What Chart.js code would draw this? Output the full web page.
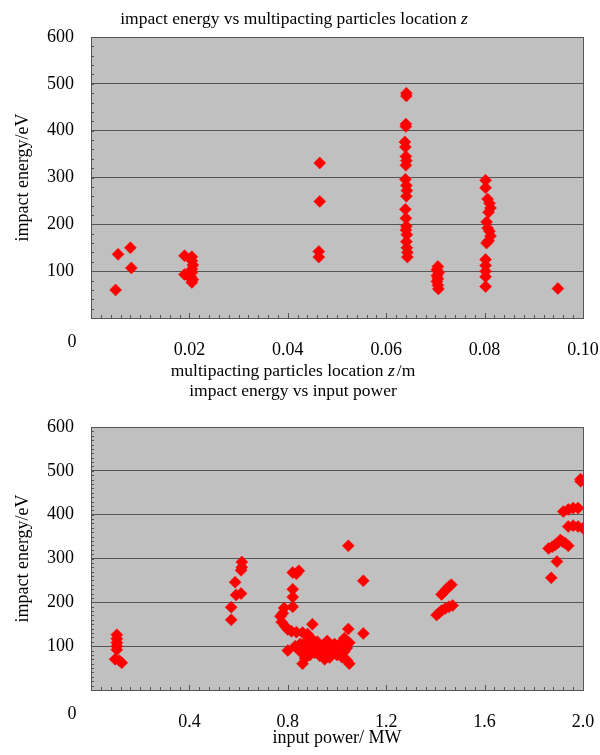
<!DOCTYPE html>
<html>
<head>
<meta charset="utf-8">
<script src="https://cdn.jsdelivr.net/npm/chart.js@4.4.1/dist/chart.umd.min.js"></script>
<style>
  html, body { margin: 0; padding: 0; background: #ffffff; }
  canvas { display: block; }
</style>
</head>
<body>
<canvas id="chartZ" width="600" height="380"></canvas>
<canvas id="chartP" width="600" height="375"></canvas>
<script>
// ---------- data ----------
const zPosition = [
  0.0050, 0.0055, 0.0080, 0.0082,
  0.0190, 0.0205, 0.0205, 0.0207, 0.0205, 0.0205, 0.0190, 0.0197, 0.0203, 0.0207, 0.0205,
  0.0465, 0.0465, 0.0463, 0.0463,
  0.0641, 0.0641, 0.0640, 0.0640, 0.0638, 0.0639, 0.0640, 0.0641, 0.0640, 0.0639, 0.0641,
  0.0642, 0.0641, 0.0639, 0.0640, 0.0641, 0.0640, 0.0642, 0.0641, 0.0642, 0.0643, 0.0643,
  0.0705, 0.0703, 0.0707, 0.0703, 0.0705, 0.0703, 0.0705, 0.0706,
  0.0802, 0.0802, 0.0806, 0.0810, 0.0812, 0.0808, 0.0804, 0.0806, 0.0810, 0.0812, 0.0808,
  0.0804, 0.0802, 0.0802, 0.0802, 0.0802, 0.0802,
  0.0949
];
const energyAtZ = [
  60, 136, 150, 107,
  133, 131, 122, 113, 104, 97, 93, 90, 88, 82, 76,
  331, 249, 142, 130,
  480, 474, 414, 409, 376, 365, 345, 336, 326, 296, 283,
  272, 260, 232, 213, 196, 188, 178, 163, 150, 140, 130,
  110, 103, 97, 90, 84, 78, 70, 62,
  294, 278, 254, 245, 235, 226, 205, 192, 185, 175, 165,
  160, 125, 112, 100, 88, 67,
  63
];

const inputPower = [
  0.105, 0.105, 0.105, 0.105, 0.105, 0.098, 0.115, 0.125,
  0.613, 0.613, 0.610, 0.586, 0.610, 0.590, 0.570, 0.570,
  0.820, 0.845, 0.835, 0.820, 0.820, 0.820, 0.785, 0.780, 0.770, 0.775, 0.790, 0.800,
  0.815, 0.835, 0.860, 0.880, 0.900, 0.800, 0.860,
  0.83, 0.84, 0.85, 0.85, 0.86, 0.87, 0.87, 0.88, 0.88, 0.89, 0.89, 0.90, 0.90, 0.91,
  0.91, 0.92, 0.92, 0.93, 0.93, 0.94, 0.94, 0.95, 0.95, 0.96, 0.96, 0.97, 0.97, 0.98,
  0.98, 0.99, 1.00, 1.00, 1.01, 1.02, 1.02, 1.03, 1.04, 1.04, 1.05, 1.05, 0.87, 0.90,
  0.95, 1.03,
  1.046, 1.107, 1.046, 1.107,
  1.425, 1.435, 1.445, 1.455, 1.465, 1.405, 1.415, 1.425, 1.440, 1.455, 1.470,
  1.871, 1.894, 1.860, 1.875, 1.887, 1.898, 1.908, 1.918, 1.928, 1.940,
  1.920, 1.940, 1.960, 1.980, 1.940, 1.960, 1.980, 2.000, 1.990, 1.990
];
const energyAtP = [
  126, 117, 108, 100, 92, 70, 67, 62,
  292, 280, 273, 246, 220, 217, 189, 160,
  268, 272, 265, 230, 212, 190, 187, 175, 168, 155, 145, 138,
  134, 132, 131, 128, 150, 90, 60,
  100, 95, 105, 88, 97, 108, 85, 93, 102, 112, 80, 90, 99, 106,
  85, 94, 110, 78, 100, 88, 97, 105, 82, 92, 112, 74, 100, 86,
  95, 105, 80, 92, 100, 75, 110, 88, 68, 96, 60, 108, 72, 115,
  70, 118,
  329, 249, 139, 129,
  218, 224, 230, 236, 240, 171, 176, 181, 186, 190, 193,
  256, 293, 323, 327, 331, 336, 342, 338, 335, 329,
  407, 412, 415, 415, 373, 375, 373, 369, 476, 481
];

const energyTicks = [0, 100, 200, 300, 400, 500, 600];
const zTickValues = [0, 0.02, 0.04, 0.06, 0.08, 0.10];
const zTickLabels = ['0', '0.02', '0.04', '0.06', '0.08', '0.10'];
const pTickValues = [0, 0.4, 0.8, 1.2, 1.6, 2.0];
const pTickLabels = ['0', '0.4', '0.8', '1.2', '1.6', '2.0'];

// ---------- styling ----------
const SERIF = '"Liberation Serif", "Times New Roman", serif';
const TICK_FONT = { family: SERIF, size: 18 };
const GRID_COLOR = '#555555';
const PLOT_BG = '#c0c0c0';

// plugin: plot background, frame, inward minor ticks, corner "0", rich titles
const decorPlugin = {
  id: 'decor',
  beforeDraw(chart) {
    const { ctx, chartArea: a } = chart;
    ctx.save();
    ctx.fillStyle = PLOT_BG;
    ctx.fillRect(a.left, a.top, a.right - a.left, a.bottom - a.top);
    ctx.restore();
  },
  beforeDatasetsDraw(chart) {
    const { ctx, chartArea: a } = chart;
    const o = chart.options.plugins.decor;
    const xs = chart.scales.x, ys = chart.scales.y;
    ctx.save();
    ctx.strokeStyle = GRID_COLOR;
    ctx.lineWidth = 1;
    ctx.beginPath();
    const nx = Math.round((xs.max - xs.min) / o.xMinor);
    for (let i = 0; i <= nx; i++) {
      const v = xs.min + i * o.xMinor;
      const px = Math.round(xs.getPixelForValue(v)) + 0.5;
      const len = (i % o.xMajorEvery === 0) ? 5 : 3;
      ctx.moveTo(px, a.bottom);
      ctx.lineTo(px, a.bottom - len);
    }
    const ny = Math.round((ys.max - ys.min) / o.yMinor);
    for (let i = 0; i <= ny; i++) {
      const v = ys.min + i * o.yMinor;
      const py = Math.round(ys.getPixelForValue(v)) + 0.5;
      ctx.moveTo(a.left, py);
      ctx.lineTo(a.left + 3, py);
    }
    ctx.stroke();
    ctx.strokeRect(Math.round(a.left) + 0.5, Math.round(a.top) + 0.5,
                   Math.round(a.right - a.left), Math.round(a.bottom - a.top));
    ctx.restore();
  },
  afterDraw(chart) {
    const { ctx, chartArea: a } = chart;
    const o = chart.options.plugins.decor;
    const xs = chart.scales.x;
    ctx.save();
    ctx.fillStyle = '#000';
    ctx.font = `${TICK_FONT.size}px ${SERIF}`;
    ctx.textAlign = 'center';
    ctx.textBaseline = 'middle';
    ctx.fillText(o.zeroLabel, xs.getPixelForValue(0) - 19, a.bottom + 13 + TICK_FONT.size * 0.6);
    ctx.textBaseline = 'alphabetic';
    ctx.textAlign = 'left';
    for (const line of o.texts) {
      let total = 0;
      const widths = line.parts.map(p => {
        ctx.font = `${p.italic ? 'italic ' : ''}${line.size}px ${SERIF}`;
        const w = ctx.measureText(p.text).width + (p.gap || 0);
        total += w;
        return w;
      });
      let x = line.cx - total / 2;
      line.parts.forEach((p, i) => {
        ctx.font = `${p.italic ? 'italic ' : ''}${line.size}px ${SERIF}`;
        ctx.fillText(p.text, x, line.baseline);
        x += widths[i];
      });
    }
    ctx.restore();
  }
};

function makeChart(canvasId, xData, yData, cfg) {
  const points = xData.map((x, i) => ({ x: x, y: yData[i] }));
  return new Chart(document.getElementById(canvasId), {
    type: 'scatter',
    data: {
      datasets: [{
        data: points,
        pointStyle: 'rectRot',
        pointRadius: 6,
        pointHoverRadius: 6,
        backgroundColor: '#ff0000',
        borderColor: '#ff0000',
        borderWidth: 0.5,
        showLine: false
      }]
    },
    options: {
      responsive: false,
      animation: false,
      devicePixelRatio: 1,
      layout: { padding: { top: cfg.padTop, right: 17, left: 0, bottom: 0 } },
      plugins: {
        legend: { display: false },
        tooltip: { enabled: false },
        title: { display: false },
        decor: cfg.decor
      },
      scales: {
        x: {
          type: 'linear',
          min: 0,
          max: cfg.xMax,
          afterBuildTicks: s => { s.ticks = cfg.xTickValues.map(v => ({ value: v })); },
          afterFit: s => { s.height = cfg.xHeight; s.paddingLeft = 0; s.paddingRight = 0; },
          ticks: {
            autoSkip: false,
            maxRotation: 0,
            minRotation: 0,
            padding: 13,
            color: '#000',
            font: TICK_FONT,
            callback: (v, i) => (i === 0 ? '' : cfg.xTickLabels[i])
          },
          grid: { display: false },
          border: { display: false },
          title: cfg.xTitle
        },
        y: {
          min: 0,
          max: 600,
          afterBuildTicks: s => { s.ticks = energyTicks.map(v => ({ value: v })); },
          afterFit: s => { s.width = 91; s.paddingTop = 0; s.paddingBottom = 0; },
          ticks: {
            padding: 17,
            color: '#000',
            font: TICK_FONT,
            callback: v => (v === 0 ? '' : String(v))
          },
          grid: { color: GRID_COLOR, lineWidth: 1, drawTicks: false },
          border: { display: false },
          title: {
            display: true,
            text: 'impact energy/eV',
            color: '#000',
            font: { family: SERIF, size: 18 },
            padding: { top: 12, bottom: 0 }
          }
        }
      }
    },
    plugins: [decorPlugin]
  });
}

makeChart('chartZ', zPosition, energyAtZ, {
  padTop: 37,
  xMax: 0.1,
  xHeight: 62,
  xTickValues: zTickValues,
  xTickLabels: zTickLabels,
  xTitle: { display: false },
  decor: {
    xMinor: 0.002, xMajorEvery: 10, yMinor: 20, zeroLabel: zTickLabels[0],
    texts: [
      { cx: 294, baseline: 24, size: 17.5,
        parts: [{ text: 'impact energy vs multipacting particles location ' }, { text: 'z', italic: true }] },
      { cx: 293, baseline: 376, size: 17.5,
        parts: [{ text: 'multipacting particles location ' }, { text: 'z', italic: true, gap: 2 }, { text: '/m' }] }
    ]
  }
});

makeChart('chartP', inputPower, energyAtP, {
  padTop: 47,
  xMax: 2.0,
  xHeight: 65,
  xTickValues: pTickValues,
  xTickLabels: pTickLabels,
  xTitle: {
    display: true,
    text: 'input power/ MW',
    color: '#000',
    font: { family: SERIF, size: 18 },
    padding: { top: 0, bottom: 6 }
  },
  decor: {
    xMinor: 0.04, xMajorEvery: 10, yMinor: 10, zeroLabel: pTickLabels[0],
    texts: [
      { cx: 293, baseline: 16, size: 17.5,
        parts: [{ text: 'impact energy vs input power' }] }
    ]
  }
});
</script>
</body>
</html>
